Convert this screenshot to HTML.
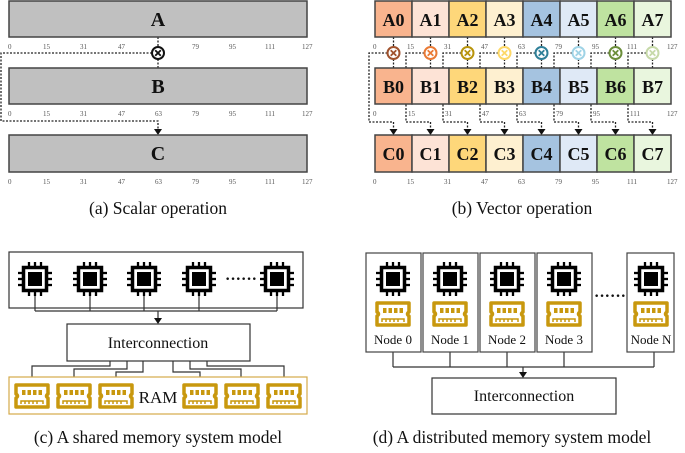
<!DOCTYPE html>
<html><head><meta charset="utf-8"><style>
html,body{margin:0;padding:0;background:#fff;}
svg{display:block;}
.t{font-family:"Liberation Serif",serif;font-size:7px;fill:#555;}
.L{font-family:"Liberation Serif",serif;font-weight:bold;font-size:20px;fill:#111;text-anchor:middle;}
.cap{font-family:"Liberation Serif",serif;font-size:17.5px;fill:#111;text-anchor:middle;}
.lab{font-family:"Liberation Serif",serif;font-size:13px;fill:#111;text-anchor:middle;}
.d{stroke:#222;stroke-width:1.3;stroke-dasharray:2,1.5;fill:none;}
.s{stroke:#333;stroke-width:1.2;fill:none;}
</style></head><body>
<svg width="685" height="453" viewBox="0 0 685 453" xmlns="http://www.w3.org/2000/svg">
<defs>
<g id="chip">
<rect x="-11.5" y="-11.5" width="23" height="23" fill="#fff" stroke="#000" stroke-width="3.5"/>
<rect x="-7" y="-7" width="14" height="14" fill="#000"/>
<g stroke="#000" stroke-width="2.3">
<line x1="-6" y1="-13" x2="-6" y2="-17"/><line x1="0" y1="-13" x2="0" y2="-17"/><line x1="6" y1="-13" x2="6" y2="-17"/>
<line x1="-6" y1="13" x2="-6" y2="17"/><line x1="0" y1="13" x2="0" y2="17"/><line x1="6" y1="13" x2="6" y2="17"/>
<line y1="-6" x1="-13" y2="-6" x2="-17"/><line y1="0" x1="-13" y2="0" x2="-17"/><line y1="6" x1="-13" y2="6" x2="-17"/>
<line y1="-6" x1="13" y2="-6" x2="17"/><line y1="0" x1="13" y2="0" x2="17"/><line y1="6" x1="13" y2="6" x2="17"/>
</g></g>
<g id="ram">
<path d="M-16,-11 H16 V-2 Q13,0 16,2 V11 H-16 V2 Q-13,0 -16,-2 Z" fill="none" stroke="#c8980e" stroke-width="3.5" stroke-linejoin="round"/>
<g fill="#c8980e"><rect x="-10" y="-6" width="3.5" height="5"/><rect x="-4.5" y="-6" width="3.5" height="5"/><rect x="1" y="-6" width="3.5" height="5"/><rect x="6.5" y="-6" width="3.5" height="5"/></g>
<path d="M-11,8 V5 H11 V8 M-7,5 V8 M-3,5 V8 M1,5 V8 M5,5 V8" fill="none" stroke="#c8980e" stroke-width="1.5"/>
</g>
<g id="mul"><circle r="6" fill="#fff" stroke-width="2"/><path d="M-2.8,-2.8 L2.8,2.8 M2.8,-2.8 L-2.8,2.8" stroke-width="1.8"/></g>
</defs>

<!-- (a) scalar -->
<path class="d" d="M158,37 V47 M158,59 V68 M152,53 H1 V121 H158 V131"/>
<path d="M154,129 L162,129 L158,135 Z" fill="#111"/>
<rect x="9" y="1" width="298" height="36" fill="#c0c0c0" stroke="#444" stroke-width="1.5"/>
<rect x="9" y="68" width="298" height="36" fill="#c0c0c0" stroke="#444" stroke-width="1.5"/>
<rect x="9" y="135" width="298" height="37" fill="#c0c0c0" stroke="#444" stroke-width="1.5"/>
<text class="L" x="158" y="26">A</text>
<text class="L" x="158" y="93">B</text>
<text class="L" x="158" y="160">C</text>
<g stroke="#111" fill="none"><use href="#mul" x="158" y="53"/></g>
<g class="t">
<text x="8" y="49">0</text><text x="43" y="49">15</text><text x="80" y="49">31</text><text x="118" y="49">47</text><text x="192" y="49">79</text><text x="229" y="49">95</text><text x="265" y="49">111</text><text x="302" y="49">127</text>
<text x="8" y="116">0</text><text x="43" y="116">15</text><text x="80" y="116">31</text><text x="118" y="116">47</text><text x="155" y="116">63</text><text x="192" y="116">79</text><text x="229" y="116">95</text><text x="265" y="116">111</text><text x="302" y="116">127</text>
<text x="8" y="184">0</text><text x="43" y="184">15</text><text x="80" y="184">31</text><text x="118" y="184">47</text><text x="155" y="184">63</text><text x="192" y="184">79</text><text x="229" y="184">95</text><text x="265" y="184">111</text><text x="302" y="184">127</text>
</g>
<text class="cap" x="158" y="214">(a) Scalar operation</text>

<!-- (b) vector -->
<g class="d">
<path d="M393.5,37 V47 M393.5,59 V68 M387.5,53 H369 V122 H393.5 V131"/>
<path d="M430.5,37 V47 M430.5,59 V68 M424.5,53 H406 V122 H430.5 V131"/>
<path d="M467.5,37 V47 M467.5,59 V68 M461.5,53 H443 V122 H467.5 V131"/>
<path d="M504.5,37 V47 M504.5,59 V68 M498.5,53 H480 V122 H504.5 V131"/>
<path d="M541.5,37 V47 M541.5,59 V68 M535.5,53 H517 V122 H541.5 V131"/>
<path d="M578.5,37 V47 M578.5,59 V68 M572.5,53 H554 V122 H578.5 V131"/>
<path d="M615.5,37 V47 M615.5,59 V68 M609.5,53 H591 V122 H615.5 V131"/>
<path d="M652.5,37 V47 M652.5,59 V68 M646.5,53 H628 V122 H652.5 V131"/>
</g>
<g fill="#111">
<path d="M389.5,129 h8 l-4,6z"/><path d="M426.5,129 h8 l-4,6z"/><path d="M463.5,129 h8 l-4,6z"/><path d="M500.5,129 h8 l-4,6z"/><path d="M537.5,129 h8 l-4,6z"/><path d="M574.5,129 h8 l-4,6z"/><path d="M611.5,129 h8 l-4,6z"/><path d="M648.5,129 h8 l-4,6z"/>
</g>
<g stroke="#444" stroke-width="1.5">
<g transform="translate(0,1)">
<rect x="375" y="0" width="37" height="36" fill="#f9b48e"/><rect x="412" y="0" width="37" height="36" fill="#fde3d6"/><rect x="449" y="0" width="37" height="36" fill="#fed77a"/><rect x="486" y="0" width="37" height="36" fill="#fef0d0"/><rect x="523" y="0" width="37" height="36" fill="#a5c3e0"/><rect x="560" y="0" width="37" height="36" fill="#dfe9f6"/><rect x="597" y="0" width="37" height="36" fill="#bfe3a0"/><rect x="634" y="0" width="37" height="36" fill="#e9f6de"/>
</g>
<g transform="translate(0,68)">
<rect x="375" y="0" width="37" height="36" fill="#f9b48e"/><rect x="412" y="0" width="37" height="36" fill="#fde3d6"/><rect x="449" y="0" width="37" height="36" fill="#fed77a"/><rect x="486" y="0" width="37" height="36" fill="#fef0d0"/><rect x="523" y="0" width="37" height="36" fill="#a5c3e0"/><rect x="560" y="0" width="37" height="36" fill="#dfe9f6"/><rect x="597" y="0" width="37" height="36" fill="#bfe3a0"/><rect x="634" y="0" width="37" height="36" fill="#e9f6de"/>
</g>
<g transform="translate(0,135)">
<rect x="375" y="0" width="37" height="37" fill="#f9b48e"/><rect x="412" y="0" width="37" height="37" fill="#fde3d6"/><rect x="449" y="0" width="37" height="37" fill="#fed77a"/><rect x="486" y="0" width="37" height="37" fill="#fef0d0"/><rect x="523" y="0" width="37" height="37" fill="#a5c3e0"/><rect x="560" y="0" width="37" height="37" fill="#dfe9f6"/><rect x="597" y="0" width="37" height="37" fill="#bfe3a0"/><rect x="634" y="0" width="37" height="37" fill="#e9f6de"/>
</g>
</g>
<g class="L" style="font-size:18px">
<text x="393.5" y="26">A0</text><text x="430.5" y="26">A1</text><text x="467.5" y="26">A2</text><text x="504.5" y="26">A3</text><text x="541.5" y="26">A4</text><text x="578.5" y="26">A5</text><text x="615.5" y="26">A6</text><text x="652.5" y="26">A7</text>
<text x="393.5" y="93">B0</text><text x="430.5" y="93">B1</text><text x="467.5" y="93">B2</text><text x="504.5" y="93">B3</text><text x="541.5" y="93">B4</text><text x="578.5" y="93">B5</text><text x="615.5" y="93">B6</text><text x="652.5" y="93">B7</text>
<text x="393.5" y="160">C0</text><text x="430.5" y="160">C1</text><text x="467.5" y="160">C2</text><text x="504.5" y="160">C3</text><text x="541.5" y="160">C4</text><text x="578.5" y="160">C5</text><text x="615.5" y="160">C6</text><text x="652.5" y="160">C7</text>
</g>
<g fill="none">
<use href="#mul" x="393.5" y="53" stroke="#a0522d"/><use href="#mul" x="430.5" y="53" stroke="#ea7a35"/><use href="#mul" x="467.5" y="53" stroke="#b8940c"/><use href="#mul" x="504.5" y="53" stroke="#fdd867"/><use href="#mul" x="541.5" y="53" stroke="#2e7f98"/><use href="#mul" x="578.5" y="53" stroke="#9fd3e6"/><use href="#mul" x="615.5" y="53" stroke="#6b8e3a"/><use href="#mul" x="652.5" y="53" stroke="#c6d9a8"/>
</g>
<g class="t">
<text x="373" y="49">0</text><text x="407" y="49">15</text><text x="444" y="49">31</text><text x="481" y="49">47</text><text x="518" y="49">63</text><text x="555" y="49">79</text><text x="592" y="49">95</text><text x="627" y="49">111</text><text x="667" y="49">127</text>
<text x="373" y="116">0</text><text x="408" y="116">15</text><text x="445" y="116">31</text><text x="482" y="116">47</text><text x="519" y="116">63</text><text x="556" y="116">79</text><text x="593" y="116">95</text><text x="630" y="116">111</text><text x="667" y="116">127</text>
<text x="373" y="184">0</text><text x="407" y="184">15</text><text x="444" y="184">31</text><text x="481" y="184">47</text><text x="518" y="184">63</text><text x="555" y="184">79</text><text x="592" y="184">95</text><text x="627" y="184">111</text><text x="667" y="184">127</text>
</g>
<text class="cap" x="522" y="214">(b) Vector operation</text>

<!-- (c) shared memory -->
<rect x="9" y="252" width="294" height="56" fill="#fff" stroke="#333" stroke-width="1.2"/>
<path class="s" d="M35,296 V311 M90,296 V311 M144,296 V311 M199,296 V311 M277,296 V311 M35,311 H277 M158,311 V320"/>
<path d="M154,318 h8 l-4,6z" fill="#111"/>
<use href="#chip" x="35" y="279"/><use href="#chip" x="90" y="279"/><use href="#chip" x="144" y="279"/><use href="#chip" x="199" y="279"/><use href="#chip" x="277" y="279"/>
<text x="225" y="284" style="font-family:'Liberation Serif',serif;font-size:16px;font-weight:bold;fill:#111">······</text>
<rect x="67" y="324" width="183" height="37" fill="#fff" stroke="#333" stroke-width="1.2"/>
<text class="lab" x="158" y="348" style="font-size:16px">Interconnection</text>
<path class="s" d="M110,361 V366 H32 V377 M127,361 V369 H74 V377 M143,361 V372 H116 V377 M173,361 V372 H200 V377 M190,361 V369 H241 V377 M207,361 V366 H284 V377"/>
<rect x="9" y="377" width="298" height="37" fill="#fff" stroke="#d4aa4a" stroke-width="1.2"/>
<use href="#ram" x="32" y="396"/><use href="#ram" x="74" y="396"/><use href="#ram" x="116" y="396"/><use href="#ram" x="200" y="396"/><use href="#ram" x="242" y="396"/><use href="#ram" x="284" y="396"/>
<text class="lab" x="158" y="403" style="font-size:17px">RAM</text>
<text class="cap" x="158" y="443">(c) A shared memory system model</text>

<!-- (d) distributed -->
<path class="s" d="M393,352 V367 M450,352 V367 M507,352 V367 M564,352 V367 M654,352 V367 M393,367 H654 M523,367 V373"/>
<path d="M519,372 h8 l-4,6z" fill="#111"/>
<g fill="#fff" stroke="#444" stroke-width="1.2">
<rect x="366" y="253" width="55" height="99"/><rect x="423" y="253" width="55" height="99"/><rect x="480" y="253" width="55" height="99"/><rect x="537" y="253" width="55" height="99"/><rect x="627" y="253" width="47" height="99"/>
</g>
<use href="#chip" x="393" y="279"/><use href="#chip" x="450" y="279"/><use href="#chip" x="507" y="279"/><use href="#chip" x="564" y="279"/><use href="#chip" x="651" y="279"/>
<use href="#ram" x="393" y="314"/><use href="#ram" x="450" y="314"/><use href="#ram" x="507" y="314"/><use href="#ram" x="564" y="314"/><use href="#ram" x="651" y="314"/>
<g class="lab">
<text x="393" y="344">Node 0</text><text x="450" y="344">Node 1</text><text x="507" y="344">Node 2</text><text x="564" y="344">Node 3</text><text x="651" y="344">Node N</text>
</g>
<text x="594" y="301" style="font-family:'Liberation Serif',serif;font-size:16px;font-weight:bold;fill:#111">······</text>
<rect x="432" y="378" width="184" height="36" fill="#fff" stroke="#333" stroke-width="1.2"/>
<text class="lab" x="524" y="401" style="font-size:16px">Interconnection</text>
<text class="cap" x="512" y="443">(d) A distributed memory system model</text>
</svg>
</body></html>
